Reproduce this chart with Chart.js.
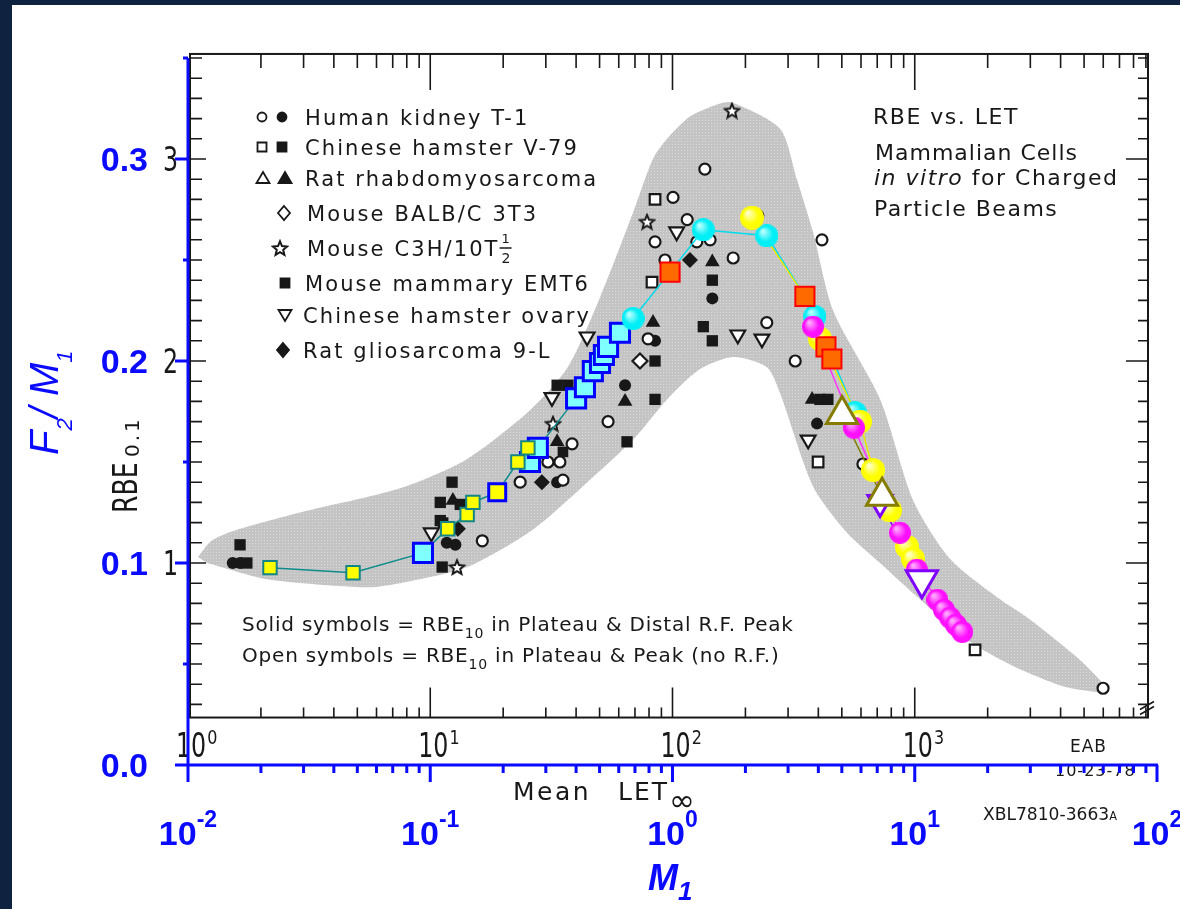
<!DOCTYPE html>
<html lang="en">
<head>
    <meta charset="UTF-8">
    <title>RBE vs. LET</title>
    <style>
        html, body { margin: 0; padding: 0; background: #0f2340; overflow: hidden; }
        canvas { display: block; }
    </style>
</head>
<body>

    <canvas id="rbeChart" width="1180" height="909"></canvas>

    <script src="https://cdn.jsdelivr.net/npm/chart.js@4.4.1/dist/chart.umd.min.js"></script>
    <script>
        // ---- scanned plot: [mean LET, RBE] ----
        var kidneyOpen = [[16.4, 1.11], [23.5, 1.40], [30.6, 1.50], [34.3, 1.50], [35.3, 1.41], [38.5, 1.59],
            [54.2, 1.70], [79.3, 2.11], [84.7, 2.59], [93.1, 2.50], [100.5, 2.81], [115, 2.70], [126, 2.59],
            [143, 2.60], [178, 2.51], [136, 2.95], [225, 2.72], [414, 2.60], [245, 2.19], [321, 2.00],
            [611, 1.49], [5990, 0.38]];
        var kidneySolid = [[1.53, 1.00], [1.64, 1.00], [11.7, 1.10], [12.7, 1.09], [33.4, 1.40], [63.7, 1.88],
            [84.7, 2.10], [146, 2.31], [395, 1.69]];
        var v79Open = [[84.7, 2.80], [82.3, 2.39], [399, 1.50], [1774, 0.57]];
        var v79Solid = [[1.75, 1.00], [1.64, 1.09], [12.3, 1.40], [11.0, 1.30], [11.0, 1.21], [11.2, 0.98],
            [13.3, 1.29], [33.4, 1.88], [37.0, 1.88], [64.9, 1.60], [84.7, 1.81], [84.7, 2.00], [134, 2.17],
            [146, 2.10], [146, 2.40], [406, 1.81], [438, 1.81]];
        var rhabdoSolid = [[12.4, 1.31], [33.4, 1.60], [63.7, 1.80], [83.1, 2.19], [146, 2.49], [377, 1.81]];
        var balbOpen = [[73.4, 2.00]];
        var c3hOpen = [[12.9, 0.98], [32.1, 1.69], [78.5, 2.69], [176, 3.24]];
        var emt6Solid = [[11.3, 1.20], [35.3, 1.55]];
        var choOpen = [[10.1, 1.15], [31.8, 1.82], [44.4, 2.12], [104, 2.64], [186, 2.13], [234, 2.11], [363, 1.61]];
        var gliosarcomaSolid = [[13.0, 1.17], [28.9, 1.40], [118, 2.50]];

        // shaded envelope, upper edge left to right, lower edge right to left
        var bandUpper = [[1.10, 1.03], [1.25, 1.11], [1.55, 1.16], [2.9, 1.25], [7.5, 1.37], [14, 1.51],
            [26, 1.76], [37, 1.97], [50, 2.31], [69, 2.74], [83, 3.00], [95, 3.10], [118, 3.21], [153, 3.27],
            [176, 3.28], [278, 3.15], [326, 2.90], [380, 2.64], [460, 2.25], [720, 1.81], [985, 1.31],
            [1400, 1.02], [2249, 0.82], [2990, 0.72], [4810, 0.52], [5820, 0.42], [6280, 0.37]];
        var bandLower = [[5820, 0.36], [4093, 0.39], [2546, 0.49], [1644, 0.62], [1051, 0.82], [719, 1.00],
            [525, 1.15], [380, 1.38], [278, 1.84], [245, 1.97], [178, 2.02], [130, 1.96], [95, 1.81],
            [68.7, 1.61], [42.7, 1.38], [26.5, 1.165], [14.2, 0.98], [7.5, 0.90], [5.48, 0.88], [2.12, 0.92],
            [1.20, 1.00]];

        // ---- overlay: [M1, F2/M1] ----
        var squaresTealYellow = [[0.0218, 0.0977], [0.048, 0.0952], [0.118, 0.117], [0.142, 0.124],
            [0.150, 0.130], [0.230, 0.150], [0.253, 0.157]];
        var squaresBlueYellow = [[0.189, 0.135]];
        var squaresBlueCyan = [[0.0933, 0.105], [0.258, 0.150], [0.278, 0.157], [0.40, 0.1815], [0.435, 0.187],
            [0.469, 0.195], [0.502, 0.199], [0.521, 0.203], [0.542, 0.207], [0.607, 0.214]];
        var circlesCyan = [[0.687, 0.221], [1.34, 0.265], [2.45, 0.262], [3.87, 0.222], [5.67, 0.1745]];
        var circlesYellow = [[2.13, 0.271], [4.06, 0.211], [5.94, 0.170], [6.73, 0.146], [7.90, 0.126],
            [9.29, 0.108], [9.84, 0.102]];
        var squaresOrange = [[0.977, 0.244], [3.52, 0.232], [4.30, 0.207], [4.55, 0.201]];
        var circlesMagenta = [[3.80, 0.217], [5.61, 0.167], [8.69, 0.115], [10.2, 0.0967], [12.4, 0.0818],
            [13.2, 0.0768], [14.0, 0.0729], [14.8, 0.0694], [15.7, 0.0659]];
        var trianglesOlive = [[5.01, 0.1735], [7.33, 0.133]];
        var trianglesPurple = [[7.19, 0.130], [10.7, 0.0917]];

        var blueTicksY = [0.0, 0.1, 0.2, 0.3];
        var blueTicksX = [-2, -1, 0, 1, 2];
        var letTicks = [0, 1, 2, 3];
        var rbeTicks = [1, 2, 3];

        var frameLET = [1, 9180];
        var frameRBE = [0.235, 3.52];

        var BLUE = '#0a0aff';
        var INK = '#181818';
        var LETTERING = '"DejaVu Sans", sans-serif';
        var ARIAL = '"Liberation Sans", Arial, sans-serif';

        function f(size, style) { return (style ? style + ' ' : '') + size + 'px ' + LETTERING; }

        function fromLet(p) { return { x: p[0] / 100, y: p[1] / 10 }; }
        function pt(p) { return { x: p[0], y: p[1] }; }
        function byX(list) { return list.slice().sort(function (a, b) { return a[0] - b[0]; }).map(pt); }

        var canvas = document.getElementById('rbeChart');
        var mainCtx = canvas.getContext('2d');

        function stipple() {
            var c = document.createElement('canvas');
            c.width = c.height = 3;
            var g = c.getContext('2d');
            g.fillStyle = '#c4c4c4';
            g.fillRect(0, 0, 3, 3);
            g.fillStyle = '#dadada';
            g.fillRect(0, 0, 1, 1);
            return mainCtx.createPattern(c, 'repeat');
        }

        function starImage(size) {
            var c = document.createElement('canvas');
            c.width = c.height = size;
            var g = c.getContext('2d');
            var r = size / 2 - 1.5, cx = size / 2, cy = size / 2 + 0.8;
            g.beginPath();
            for (var i = 0; i < 10; i++) {
                var a = -Math.PI / 2 + i * Math.PI / 5;
                var rr = i % 2 ? r * 0.45 : r;
                g.lineTo(cx + rr * Math.cos(a), cy + rr * Math.sin(a));
            }
            g.closePath();
            g.fillStyle = '#fff';
            g.fill();
            g.lineWidth = 2;
            g.strokeStyle = INK;
            g.stroke();
            return c;
        }
        var star = starImage(18);

        // shaded ball sprite, lighter at the top left
        function ball(base, light, r) {
            var c = document.createElement('canvas');
            c.width = c.height = Math.ceil(r * 2);
            var g = c.getContext('2d');
            var grad = g.createRadialGradient(r * 0.65, r * 0.6, 1, r, r, r);
            grad.addColorStop(0, light);
            grad.addColorStop(0.65, base);
            grad.addColorStop(1, base);
            g.fillStyle = grad;
            g.beginPath();
            g.arc(r, r, r, 0, Math.PI * 2);
            g.fill();
            return c;
        }

        function blackSet(data, style, solid, extra) {
            var ds = {
                type: 'scatter',
                data: data.map(fromLet),
                pointStyle: style,
                pointRadius: 5.5,
                pointBorderWidth: solid ? 0 : 2.2,
                pointBackgroundColor: solid ? INK : '#fff',
                pointBorderColor: INK,
                order: 80
            };
            return Object.assign(ds, extra || {});
        }

        function path(data, color, order) {
            return {
                type: 'scatter', data: data, showLine: true, borderColor: color, borderWidth: 1.5,
                pointRadius: 0, fill: false, order: order
            };
        }

        function letPx(chart, v) { return chart.scales.x.getPixelForValue(v / 100); }
        function rbePx(chart, v) { return chart.scales.y.getPixelForValue(v / 10); }

        // text made of runs: [text, font, dy]
        function rich(ctx, parts, x, y, o) {
            o = o || {};
            ctx.save();
            ctx.translate(x, y);
            if (o.rot) ctx.rotate(o.rot);
            if (o.sx) ctx.scale(o.sx, 1);
            ctx.fillStyle = o.color || INK;
            ctx.textAlign = 'left';
            ctx.textBaseline = 'alphabetic';
            ctx.letterSpacing = (o.ls || 0) + 'px';
            var cx = 0;
            parts.forEach(function (p) {
                ctx.font = p[1];
                if (!o.measure) ctx.fillText(p[0], cx, p[2] || 0);
                cx += ctx.measureText(p[0]).width;
            });
            ctx.restore();
            return cx * (o.sx || 1);
        }

        function mark(ctx, kind, x, y, solid) {
            if (kind === 'star') { ctx.drawImage(star, x - 9, y - 9); return; }
            ctx.save();
            ctx.fillStyle = solid ? INK : '#fff';
            ctx.strokeStyle = INK;
            ctx.lineWidth = 1.8;
            ctx.beginPath();
            if (kind === 'circle') ctx.arc(x, y, 4.5, 0, Math.PI * 2);
            else if (kind === 'square') ctx.rect(x - 4.5, y - 4.5, 9, 9);
            else if (kind === 'triangle') { ctx.moveTo(x, y - 6); ctx.lineTo(x + 6.5, y + 5); ctx.lineTo(x - 6.5, y + 5); ctx.closePath(); }
            else if (kind === 'triangleDown') { ctx.moveTo(x, y + 6); ctx.lineTo(x + 6.5, y - 5); ctx.lineTo(x - 6.5, y - 5); ctx.closePath(); }
            else if (kind === 'diamond') { ctx.moveTo(x, y - 7); ctx.lineTo(x + 6, y); ctx.lineTo(x, y + 7); ctx.lineTo(x - 6, y); ctx.closePath(); }
            ctx.fill();
            ctx.stroke();
            ctx.restore();
        }

        var legendRows = [
            ['Human kidney T-1', 125, 305, [['circle', false, 262], ['circle', true, 282]]],
            ['Chinese hamster V-79', 155, 305, [['square', false, 262], ['square', true, 282]]],
            ['Rat rhabdomyosarcoma', 186, 305, [['triangle', false, 263], ['triangle', true, 285]]],
            ['Mouse BALB/C 3T3', 221, 307, [['diamond', false, 284]]],
            ['Mouse C3H/10T', 256, 307, [['star', false, 280]]],
            ['Mouse mammary EMT6', 291, 305, [['square', true, 285]]],
            ['Chinese hamster ovary', 323, 303, [['triangleDown', false, 285]]],
            ['Rat gliosarcoma 9-L', 358, 303, [['diamond', true, 283]]]
        ];

        var pagePlugin = {
            id: 'page',
            beforeDraw: function (chart) {
                var ctx = chart.ctx;
                ctx.save();
                ctx.fillStyle = '#0f2340';
                ctx.fillRect(0, 0, chart.width, chart.height);
                ctx.fillStyle = '#ffffff';
                ctx.fillRect(12, 5, chart.width - 12, chart.height - 5);
                ctx.restore();
            }
        };

        // the original LET / RBE frame with its lettering
        var innerPlot = {
            id: 'innerPlot',
            beforeDatasetsDraw: function (chart) {
                var ctx = chart.ctx;
                var left = letPx(chart, frameLET[0]) + 2, right = letPx(chart, frameLET[1]);
                var top = rbePx(chart, frameRBE[1]), bottom = rbePx(chart, frameRBE[0]);
                ctx.save();
                ctx.strokeStyle = INK;
                ctx.lineWidth = 2;
                ctx.strokeRect(left, top, right - left, bottom - top);
                ctx.lineWidth = 1.6;
                ctx.beginPath();
                for (var d = 0; d < 4; d++) {
                    for (var m = 1; m <= 9; m++) {
                        var v = m * Math.pow(10, d);
                        if (v <= frameLET[0] || v >= frameLET[1]) continue;
                        var x = letPx(chart, v);
                        ctx.moveTo(x, top); ctx.lineTo(x, top + (m === 1 ? 36 : 14));
                        ctx.moveTo(x, bottom); ctx.lineTo(x, bottom - (m === 1 ? 30 : 10));
                    }
                }
                for (var i = 3; i <= 35; i++) {
                    var y = rbePx(chart, i / 10);
                    var major = i % 10 === 0;
                    ctx.moveTo(left, y); ctx.lineTo(left + (major ? 16 : 12), y);
                    ctx.moveTo(right, y); ctx.lineTo(right - (major ? 22 : 10), y);
                }
                // axis break
                ctx.moveTo(right - 8, bottom - 8); ctx.lineTo(right + 6, bottom - 16);
                ctx.moveTo(right - 8, bottom - 3); ctx.lineTo(right + 6, bottom - 11);
                ctx.stroke();

                rbeTicks.forEach(function (t) {
                    var y = rbePx(chart, t);
                    var w = rich(ctx, [[String(t), f(33)]], 0, 0, { sx: 0.72, measure: true });
                    rich(ctx, [[String(t), f(33)]], 178 - w, y + 12, { sx: 0.72 });
                });
                letTicks.forEach(function (e) {
                    var x = letPx(chart, Math.pow(10, e)) - 12;
                    var w = rich(ctx, [['10', f(33)]], x, 757, { sx: 0.72 });
                    rich(ctx, [[String(e), f(20)]], x + w + 1, 744, { sx: 0.8 });
                });

                rich(ctx, [['RBE', f(33)]], 137, 513, { rot: -Math.PI / 2, sx: 0.76 });
                rich(ctx, [['0.1', f(20)]], 139, 457, { rot: -Math.PI / 2, ls: 3 });

                rich(ctx, [['Mean', f(25)]], 513, 800, { ls: 2.5 });
                var wl = rich(ctx, [['LET', f(25)]], 618, 800, { ls: 2 });
                rich(ctx, [['\u221e', f(31)]], 618 + wl, 811, {});

                legendRows.forEach(function (r) {
                    r[3].forEach(function (s) { mark(ctx, s[0], s[2], r[1] - 8, s[1]); });
                    var w = rich(ctx, [[r[0], f(21)]], r[2], r[1], { ls: 2.1 });
                    if (r[0] === 'Mouse C3H/10T') {
                        var fx = r[2] + w + 2;
                        rich(ctx, [['1', f(13)]], fx, r[1] - 13, {});
                        rich(ctx, [['2', f(14)]], fx, r[1] + 7, {});
                        ctx.beginPath();
                        ctx.lineWidth = 1.5;
                        ctx.moveTo(fx - 2, r[1] - 8); ctx.lineTo(fx + 10, r[1] - 8);
                        ctx.stroke();
                    }
                });

                rich(ctx, [['RBE vs. LET', f(22)]], 873, 124, { ls: 1.5 });
                rich(ctx, [['Mammalian Cells', f(22)]], 875, 160, { ls: 1 });
                rich(ctx, [['in vitro', f(22, 'oblique')], [' for Charged', f(22)]], 874, 185, { ls: 1.5 });
                rich(ctx, [['Particle Beams', f(22)]], 874, 216, { ls: 1.5 });

                rich(ctx, [['Solid symbols = RBE', f(20)], ['10', f(14), 7],
                    [' in Plateau & Distal R.F. Peak', f(20)]], 242, 631, { ls: 0.8 });
                rich(ctx, [['Open symbols = RBE', f(20)], ['10', f(14), 7],
                    [' in Plateau & Peak (no R.F.)', f(20)]], 242, 662, { ls: 0.8 });

                rich(ctx, [['EAB', f(17)]], 1070, 752, { ls: 1 });
                rich(ctx, [['10-23-78', f(16)]], 1055, 776, { ls: 1 });
                rich(ctx, [['XBL7810-3663', f(18)], ['A', f(12)]], 983, 820, { sx: 0.95 });
                ctx.restore();
            }
        };

        // blue M1 and F2/M1 axes drawn over the plot
        var blueAxes = {
            id: 'blueAxes',
            afterDatasetsDraw: function (chart) {
                var ctx = chart.ctx, a = chart.chartArea;
                var sx = chart.scales.x, sy = chart.scales.y;
                ctx.save();
                ctx.strokeStyle = BLUE;
                ctx.lineWidth = 3;
                ctx.beginPath();
                ctx.moveTo(a.left, a.top); ctx.lineTo(a.left, a.bottom + 17);
                ctx.moveTo(a.left - 13, a.bottom); ctx.lineTo(a.right + 1, a.bottom);
                for (var i = 1; i <= 7; i++) {
                    var py = sy.getPixelForValue(i * 0.05);
                    ctx.moveTo(a.left - (i % 2 ? 5 : 13), py); ctx.lineTo(a.left, py);
                }
                for (var d = -2; d <= 2; d++) {
                    for (var m = 1; m <= 9; m++) {
                        var v = m * Math.pow(10, d);
                        if (v > 100) break;
                        var px = sx.getPixelForValue(v);
                        ctx.moveTo(px, a.bottom); ctx.lineTo(px, a.bottom + (m === 1 ? 17 : 8));
                    }
                }
                ctx.stroke();

                ctx.fillStyle = BLUE;
                ctx.font = 'bold 34px ' + ARIAL;
                ctx.textAlign = 'right';
                ctx.textBaseline = 'alphabetic';
                blueTicksY.forEach(function (t) {
                    ctx.fillText(t.toFixed(1), 148, sy.getPixelForValue(t) + 12);
                });
                blueTicksX.forEach(function (e) {
                    var parts = [['10', 'bold 34px ' + ARIAL], [String(e), 'bold 23px ' + ARIAL, -18]];
                    var w = rich(ctx, parts, 0, 0, { measure: true });
                    rich(ctx, parts, sx.getPixelForValue(Math.pow(10, e)) - w / 2, 845, { color: BLUE });
                });

                rich(ctx, [['M', 'italic bold 36px ' + ARIAL], ['1', 'italic bold 26px ' + ARIAL, 10]],
                    648, 890, { color: BLUE });
                rich(ctx, [['F', 'italic 40px ' + ARIAL], ['2', 'italic 22px ' + ARIAL, 14],
                    ['/ ', 'italic 40px ' + ARIAL], ['M', 'italic 40px ' + ARIAL], ['1', 'italic 22px ' + ARIAL, 14]],
                    58, 455, { rot: -Math.PI / 2, color: BLUE });
                ctx.restore();
            }
        };

        var datasets = [
            {
                type: 'line',
                data: bandUpper.concat(bandLower).map(fromLet),
                backgroundColor: stipple(),
                borderWidth: 0,
                pointRadius: 0,
                fill: 'shape',
                tension: 0.25,
                order: 100
            },
            blackSet(kidneyOpen, 'circle', false),
            blackSet(kidneySolid, 'circle', true, { pointRadius: 6 }),
            blackSet(v79Open, 'rect', false, { pointRadius: 7.5 }),
            blackSet(v79Solid, 'rect', true, { pointRadius: 8 }),
            blackSet(rhabdoSolid, 'triangle', true, { pointRadius: 8.5 }),
            blackSet(balbOpen, 'rectRot', false, { pointRadius: 7.5 }),
            blackSet(c3hOpen, star, false),
            blackSet(emt6Solid, 'rect', true, { pointRadius: 7.5 }),
            blackSet(choOpen, 'triangle', false, { pointRadius: 8.5, pointRotation: 180 }),
            blackSet(gliosarcomaSolid, 'rectRot', true, { pointRadius: 8 }),

            path(byX(squaresTealYellow.concat(squaresBlueYellow, squaresBlueCyan)), '#0e8c8c', 60),
            path(byX([squaresBlueCyan[squaresBlueCyan.length - 1]].concat(circlesCyan, squaresOrange.slice(0, 2))), '#00dcec', 59),
            path(byX(circlesYellow.concat([squaresOrange[1]])), '#e8e800', 58),
            path(byX(circlesMagenta.concat([squaresOrange[1]])), '#ff33ff', 57),
            path(trianglesOlive.map(pt), '#808000', 56),
            path(trianglesPurple.map(pt), '#8000ff', 55),

            {
                type: 'scatter', data: squaresBlueCyan.map(pt), pointStyle: 'rect', pointRadius: 13.5,
                pointBackgroundColor: '#80ffff', pointBorderColor: '#0000ff', pointBorderWidth: 3, order: 40
            },
            {
                type: 'scatter', data: squaresBlueYellow.map(pt), pointStyle: 'rect', pointRadius: 12,
                pointBackgroundColor: '#ffff00', pointBorderColor: '#0000ff', pointBorderWidth: 3, order: 36
            },
            {
                type: 'scatter', data: squaresTealYellow.map(pt), pointStyle: 'rect', pointRadius: 9.5,
                pointBackgroundColor: '#ffff00', pointBorderColor: '#138585', pointBorderWidth: 2, order: 35
            },
            {
                type: 'scatter', data: circlesCyan.map(pt), pointStyle: ball('#00eef6', '#b8ffff', 11.5),
                pointRadius: 11.5, order: 30
            },
            {
                type: 'scatter', data: circlesYellow.map(pt), pointStyle: ball('#ffff00', '#ffffc8', 12),
                pointRadius: 12, order: 28
            },
            {
                type: 'scatter', data: squaresOrange.map(pt), pointStyle: 'rect', pointRadius: 13.5,
                pointBackgroundColor: '#ff6a00', pointBorderColor: '#ff0000', pointBorderWidth: 2, order: 26
            },
            {
                type: 'scatter', data: circlesMagenta.map(pt), pointStyle: ball('#ff10ff', '#ffaaff', 11),
                pointRadius: 11, order: 24
            },
            {
                type: 'scatter', data: trianglesPurple.map(pt), pointStyle: 'triangle', pointRadius: [14, 18],
                pointRotation: 180, pointBackgroundColor: '#ffffff', pointBorderColor: '#7f00ff',
                pointBorderWidth: 3, order: 22
            },
            {
                type: 'scatter', data: trianglesOlive.map(pt), pointStyle: 'triangle', pointRadius: 18,
                pointBackgroundColor: '#ffffff', pointBorderColor: '#857c00', pointBorderWidth: 3, order: 20
            }
        ];

        var rbeChart = new Chart(canvas, {
            type: 'scatter',
            data: { datasets: datasets },
            options: {
                responsive: false,
                animation: false,
                events: [],
                layout: { padding: { left: 188, right: 23, top: 58, bottom: 144 } },
                scales: {
                    x: { type: 'logarithmic', min: 0.01, max: 100, display: false },
                    y: { type: 'linear', min: 0, max: 0.35, display: false }
                },
                plugins: {
                    legend: { display: false },
                    tooltip: { enabled: false }
                }
            },
            plugins: [pagePlugin, innerPlot, blueAxes]
        });
    </script>

</body>
</html>
